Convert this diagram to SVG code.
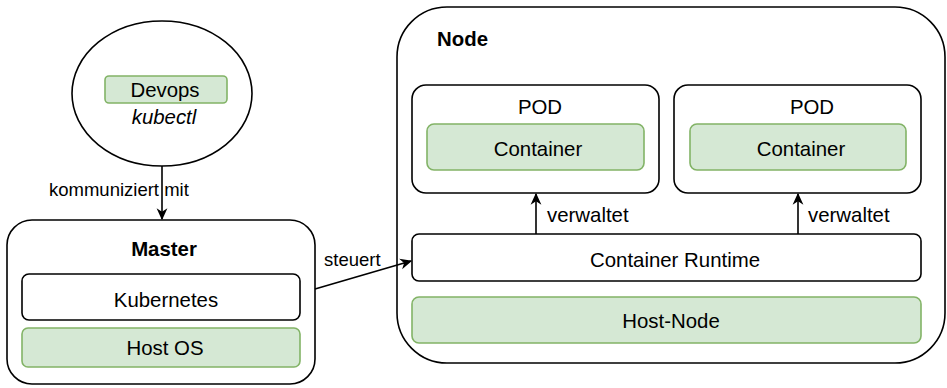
<svg xmlns="http://www.w3.org/2000/svg" width="947" height="388" viewBox="0 0 947 388">
<defs>
<style>
.box{fill:#ffffff;stroke:#000000;stroke-width:1.6}
.green{fill:#d5e8d4;stroke:#82b366;stroke-width:1.6}
.t{font-family:"Liberation Sans",Arial,Helvetica,sans-serif;font-size:20.4px;fill:#000000;text-anchor:middle}
.b{font-weight:bold}
.i{font-style:italic}
.lbl{font-family:"Liberation Sans",Arial,Helvetica,sans-serif;font-size:18.5px;fill:#000000}
.edge{fill:none;stroke:#000000;stroke-width:1.6}
</style>
<marker id="arr" viewBox="0 0 10 10" refX="9" refY="5" markerWidth="12" markerHeight="12" markerUnits="userSpaceOnUse" orient="auto">
<path d="M0,0.5 L10,5 L0,9.5 L3,5 z" fill="#000000"/>
</marker>
</defs>

<g id="devops">
<ellipse class="box" cx="162" cy="93.5" rx="90" ry="72.5"/>
<rect class="green" x="105" y="76" width="122" height="27" rx="4"/>
<text class="t" x="165" y="97">Devops</text>
<text class="t i" x="164" y="124">kubectl</text>
</g>

<g id="master">
<rect class="box" x="7" y="220" width="308" height="164" rx="25"/>
<text class="t b" x="164" y="256">Master</text>
<rect class="box" x="22" y="274" width="278" height="46" rx="7"/>
<text class="t" x="166" y="307">Kubernetes</text>
<rect class="green" x="22" y="328" width="278" height="39" rx="6"/>
<text class="t" x="165" y="355">Host OS</text>
</g>

<g id="node">
<rect class="box" x="397" y="7" width="548" height="356" rx="50"/>
<text class="t b" x="437" y="46" style="text-anchor:start">Node</text>
</g>

<g id="pod1">
<rect class="box" x="412" y="85" width="247" height="108" rx="14"/>
<text class="t" x="540" y="114">POD</text>
<rect class="green" x="427" y="124" width="217" height="46" rx="7"/>
<text class="t" x="538" y="156">Container</text>
</g>

<g id="pod2">
<rect class="box" x="674" y="85" width="247" height="108" rx="14"/>
<text class="t" x="812" y="114">POD</text>
<rect class="green" x="690" y="124" width="216" height="46" rx="7"/>
<text class="t" x="801" y="156">Container</text>
</g>

<g id="runtime">
<rect class="box" x="412" y="234" width="509" height="47" rx="7"/>
<text class="t" x="675" y="267">Container Runtime</text>
</g>

<g id="hostnode">
<rect class="green" x="412" y="297" width="509" height="46" rx="7"/>
<text class="t" x="671" y="328">Host-Node</text>
</g>

<g id="connectors">
<line class="edge" x1="162" y1="166" x2="162" y2="219" marker-end="url(#arr)"/>
<text class="lbl" x="49" y="196">kommuniziert mit</text>
<line class="edge" x1="315" y1="289" x2="411" y2="261" marker-end="url(#arr)"/>
<text class="lbl" x="324" y="266">steuert</text>
<line class="edge" x1="536" y1="234" x2="536" y2="194" marker-end="url(#arr)"/>
<text class="t" x="547" y="222" style="text-anchor:start">verwaltet</text>
<line class="edge" x1="798" y1="234" x2="798" y2="194" marker-end="url(#arr)"/>
<text class="t" x="808" y="222" style="text-anchor:start">verwaltet</text>
</g>
</svg>
